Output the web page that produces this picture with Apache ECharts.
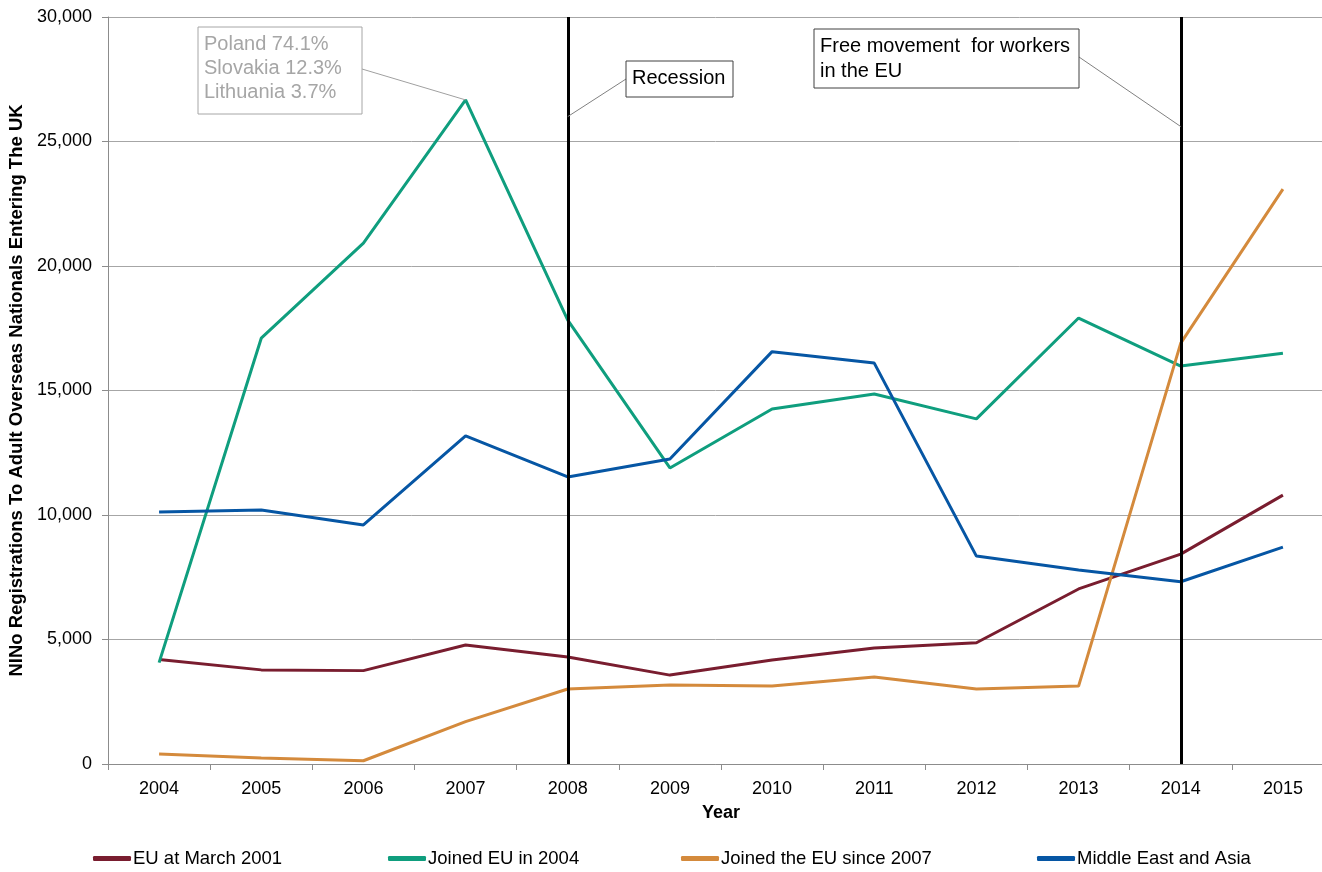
<!DOCTYPE html>
<html>
<head>
<meta charset="utf-8">
<script src="https://cdn.jsdelivr.net/npm/echarts@6/dist/echarts.min.js"></script>
<style>html,body{margin:0;padding:0;background:#fff;}#c{width:1322px;height:872px;}</style>
</head>
<body>
<div id="c"></div>
<script>
const years = ['2004','2005','2006','2007','2008','2009','2010','2011','2012','2013','2014','2015'];
const euMarch2001 = [4200, 3780, 3750, 4780, 4300, 3570, 4180, 4660, 4870, 7030, 8430, 10800];
const joined2004 = [4070, 17100, 20920, 26670, 17830, 11890, 14260, 14860, 13860, 17910, 15980, 16500];
const joinedSince2007 = [400, 240, 130, 1700, 3010, 3170, 3130, 3490, 3010, 3130, 16900, 23090];
const middleEastAsia = [10120, 10200, 9600, 13180, 11530, 12250, 16560, 16100, 8350, 7790, 7320, 8710];
const seriesNames = ['EU at March 2001', 'Joined EU in 2004', 'Joined the EU since 2007', 'Middle East and Asia'];
const eventYears = ['2008', '2014'];

const FONT = "'Liberation Sans', Arial, sans-serif";
const colors = ['#791d2f', '#0f9e7e', '#d48a3c', '#0656a4'];
const chart = echarts.init(document.getElementById('c'));
const allData = [euMarch2001, joined2004, joinedSince2007, middleEastAsia];

const legendLefts = [93, 388, 681, 1037];
const option = {
  animation: false,
  textStyle: { fontFamily: FONT },
  grid: { left: 108, right: -12, top: 17, bottom: 108, outerBoundsMode: 'none', containLabel: false },
  legend: seriesNames.map((n, i) => ({
    data: [n], left: legendLefts[i], top: 849, padding: 0, icon: 'roundRect', itemWidth: 38, itemHeight: 5, itemGap: 2,
    textStyle: { fontFamily: FONT, fontSize: 18.5, color: '#000', padding: [0, 0, 0, -3] }
  })),
  xAxis: {
    type: 'category', data: years, boundaryGap: true,
    name: 'Year', nameLocation: 'middle', nameGap: 40,
    nameTextStyle: { fontFamily: FONT, fontSize: 18, fontWeight: 'bold', color: '#000' },
    axisLine: { lineStyle: { color: '#8c8c8c', width: 1 } },
    axisTick: { show: true, length: 6, lineStyle: { color: '#8c8c8c' } },
    axisLabel: { fontFamily: FONT, fontSize: 18, color: '#000', margin: 16 },
    splitLine: { show: false }
  },
  yAxis: {
    type: 'value', min: 0, max: 30000, interval: 5000,
    name: 'NINo Registrations To Adult Overseas Nationals Entering The UK', nameLocation: 'middle', nameGap: 78, nameRotate: 90,
    nameTextStyle: { fontFamily: FONT, fontSize: 18.5, fontWeight: 'bold', color: '#000' },
    axisLine: { show: true, lineStyle: { color: '#8c8c8c', width: 1 } },
    axisTick: { show: true, length: 6, lineStyle: { color: '#8c8c8c' } },
    axisLabel: { fontFamily: FONT, fontSize: 18, color: '#000', margin: 16,
      formatter: v => v.toLocaleString('en-US') },
    splitLine: { lineStyle: { color: '#a6a6a6', width: 1 } }
  },
  series: seriesNames.map((n, i) => {
    const s = {
      name: n, type: 'line', data: allData[i], symbol: 'none',
      lineStyle: { color: colors[i], width: 3 }, itemStyle: { color: colors[i] }, z: 3
    };
    if (i === 0) {
      s.markLine = {
        silent: true, symbol: 'none', label: { show: false },
        lineStyle: { color: '#000', width: 3, type: 'solid' },
        data: eventYears.map(y => ({ xAxis: y })), z: 5
      };
    }
    return s;
  })
};
chart.setOption(option);

// Annotations with leader lines
const pRec = chart.convertToPixel({ gridIndex: 0 }, ['2008', 26000]);
const pFree = chart.convertToPixel({ gridIndex: 0 }, ['2014', 25600]);
const pPol = chart.convertToPixel({ gridIndex: 0 }, ['2007', joined2004[3]]);

function box(x, y, w, h, lines, color, border, lh) {
  return [
    { type: 'rect', shape: { x: x, y: y, width: w, height: h }, style: { fill: '#fff', stroke: border, lineWidth: 1 }, z: 10 },
    { type: 'text', x: x + 6, y: y + 5, style: { text: lines.join('\n'), font: '20px ' + FONT, fill: color, lineHeight: lh }, z: 11 }
  ];
}
const elements = [];
elements.push({ type: 'line', shape: { x1: pPol[0], y1: pPol[1], x2: 362, y2: 69 }, style: { stroke: '#a0a0a0', lineWidth: 1 }, z: 9 });
elements.push({ type: 'line', shape: { x1: pRec[0], y1: pRec[1], x2: 626, y2: 79 }, style: { stroke: '#808080', lineWidth: 1 }, z: 9 });
elements.push({ type: 'line', shape: { x1: pFree[0], y1: pFree[1], x2: 1079, y2: 57 }, style: { stroke: '#808080', lineWidth: 1 }, z: 9 });
elements.push(...box(198, 27, 164, 87, ['Poland 74.1%', 'Slovakia 12.3%', 'Lithuania 3.7%'], '#a6a6a6', '#a6a6a6', 24));
elements.push(...box(626, 61, 107, 36, ['Recession'], '#000', '#404040', 24));
elements.push(...box(814, 29, 265, 59, ['Free movement  for workers', 'in the EU'], '#000', '#404040', 25));
chart.setOption({ graphic: { elements: elements } });
</script>
</body>
</html>
